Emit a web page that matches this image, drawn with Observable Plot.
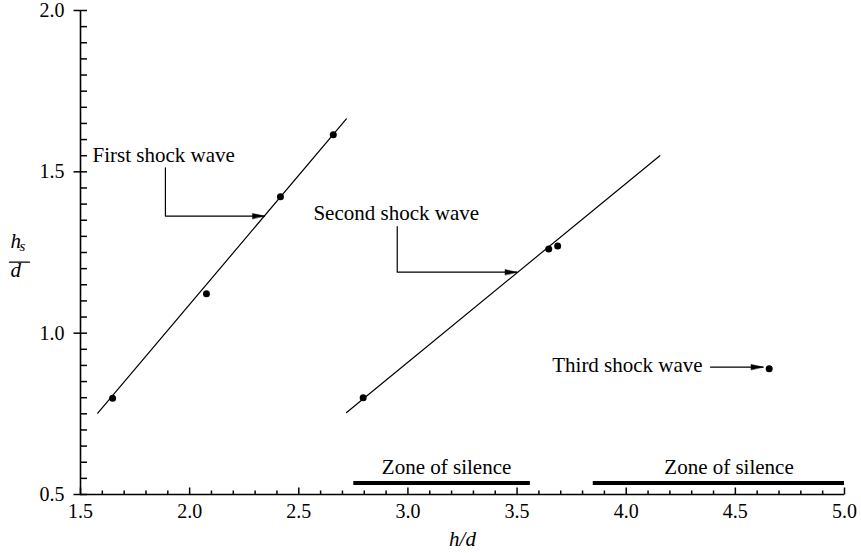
<!DOCTYPE html>
<html>
<head>
<meta charset="utf-8">
<script src="https://cdn.jsdelivr.net/npm/d3@7"></script>
<script src="https://cdn.jsdelivr.net/npm/@observablehq/plot@0.6"></script>
<style>
  html, body { margin: 0; padding: 0; background: #fff; }
</style>
</head>
<body>
<div id="chart"></div>
<script>
// ---- data ----
const firstX = [1.647, 2.077, 2.416, 2.658];
const firstY = [0.798, 1.122, 1.423, 1.615];
const secondX = [2.795, 3.645, 3.686];
const secondY = [0.800, 1.261, 1.270];
const thirdX = [4.655];
const thirdY = [0.890];

// fitted lines (end points)
const fit1X = [1.579, 2.718];
const fit1Y = [0.752, 1.664];
const fit2X = [2.719, 4.154];
const fit2Y = [0.754, 1.550];

// annotations
const annotText = ["First shock wave", "Second shock wave", "Third shock wave"];
const annotX = [1.555, 2.567, 3.661];
const annotY = [1.531, 1.351, 0.880];

const leaderId = [1, 1, 1, 2, 2, 2, 3, 3];
const leaderX = [1.889, 1.889, 2.343, 2.951, 2.951, 3.500, 4.386, 4.627];
const leaderY = [1.512, 1.363, 1.363, 1.330, 1.189, 1.189, 0.895, 0.895];

const tipX = [2.343, 3.500, 4.627];
const tipY = [1.363, 1.189, 0.895];

// zones of silence
const zoneLabel = ["Zone of silence", "Zone of silence"];
const zoneX1 = [2.752, 3.849];
const zoneX2 = [3.561, 5.0];
const zoneY = [0.536, 0.536];
const zoneLabelX = [3.177, 4.471];
const zoneLabelY = [0.564, 0.564];

// ticks
const xMajor = [1.5, 2.0, 2.5, 3.0, 3.5, 4.0, 4.5, 5.0];
const xMajorLabels = ["1.5", "2.0", "2.5", "3.0", "3.5", "4.0", "4.5", "5.0"];
const xMinor = d3.range(16, 50).map(d => d / 10).filter(d => Math.round(d * 10) % 5 !== 0);
const yMajor = [0.5, 1.0, 1.5, 2.0];
const yMajorLabels = ["0.5", "1.0", "1.5", "2.0"];
const yMinor = d3.range(11, 40).map(d => d / 20).filter(d => Math.round(d * 20) % 10 !== 0);
const yLabelY = 1.22;

// ---- build tables ----
const pts = [
  ...firstX.map((x, i) => ({x, y: firstY[i]})),
  ...secondX.map((x, i) => ({x, y: secondY[i]})),
  ...thirdX.map((x, i) => ({x, y: thirdY[i]}))
];
const fits = [
  ...fit1X.map((x, i) => ({id: 1, x, y: fit1Y[i]})),
  ...fit2X.map((x, i) => ({id: 2, x, y: fit2Y[i]}))
];
const annots = annotText.map((t, i) => ({t, x: annotX[i], y: annotY[i]}));
const leaders = leaderX.map((x, i) => ({id: leaderId[i], x, y: leaderY[i]}));
const tips = tipX.map((x, i) => ({x, y: tipY[i]}));
const zones = zoneLabel.map((t, i) => ({t, x1: zoneX1[i], x2: zoneX2[i], y: zoneY[i], lx: zoneLabelX[i], ly: zoneLabelY[i]}));

const arrowHead = {
  draw(ctx, l) {
    ctx.moveTo(0, 0);
    ctx.lineTo(-2.6, l);
    ctx.lineTo(2.6, l);
    ctx.closePath();
  }
};
// simple straight segment pointing "up" before rotation
const seg = { draw(ctx, l) { ctx.moveTo(0, 0); ctx.lineTo(0, -l); } };

const chart = Plot.plot({
  width: 861,
  height: 553,
  marginLeft: 80,
  marginRight: 17,
  marginTop: 10,
  marginBottom: 59,
  style: {fontFamily: "Liberation Serif", fontSize: "20px", background: "white", color: "black"},
  x: {domain: [1.5, 5.0], axis: null},
  y: {domain: [0.5, 2.0], axis: null},
  marks: [
    // tick labels
    Plot.text(yMajor, {y: d => d, text: (d, i) => yMajorLabels[i], frameAnchor: "left", dx: -16, textAnchor: "end", lineAnchor: "middle", fontSize: 20}),
    Plot.text(xMajor, {x: d => d, text: (d, i) => xMajorLabels[i], frameAnchor: "bottom", dy: 9, lineAnchor: "top", fontSize: 20}),
    // axis titles
    Plot.text(["h/d"], {frameAnchor: "bottom", dy: 51, lineAnchor: "bottom", fontStyle: "italic", fontSize: 21}),
    Plot.text(["h"], {y: () => yLabelY, frameAnchor: "left", dx: -70, dy: -14, textAnchor: "start", lineAnchor: "bottom", fontStyle: "italic", fontSize: 21}),
    Plot.text(["s"], {y: () => yLabelY, frameAnchor: "left", dx: -61, dy: -11.5, textAnchor: "start", lineAnchor: "bottom", fontStyle: "italic", fontSize: 15}),
    Plot.vector([0], {y: () => yLabelY, frameAnchor: "left", dx: -71, length: 20, rotate: 90, anchor: "start", shape: seg, strokeWidth: 1.2}),
    Plot.text(["d"], {y: () => yLabelY, frameAnchor: "left", dx: -70, dy: 14.5, textAnchor: "start", lineAnchor: "bottom", fontStyle: "italic", fontSize: 21}),
    // fitted lines
    Plot.line(fits, {x: "x", y: "y", z: "id", stroke: "black", strokeWidth: 1.2}),
    // data points
    Plot.dot(pts, {x: "x", y: "y", r: 3.5, fill: "black", stroke: "none"}),
    // leaders
    Plot.line(leaders, {x: "x", y: "y", z: "id", stroke: "black", strokeWidth: 1.2}),
    Plot.vector(tips, {x: "x", y: "y", length: 12, rotate: 90, anchor: "start", shape: arrowHead, fill: "black", stroke: "black", strokeWidth: 0.5}),
    Plot.text(annots, {x: "x", y: "y", text: "t", textAnchor: "start", lineAnchor: "bottom", fontSize: 21}),
    // zones of silence
    Plot.ruleY(zones, {x1: "x1", x2: "x2", y: "y", strokeWidth: 4, strokeLinecap: "butt"}),
    Plot.text(zones, {x: "lx", y: "ly", text: "t", lineAnchor: "bottom", fontSize: 21}),
    // axis lines and ticks drawn last
    Plot.ruleX([1.5], {strokeWidth: 1.6}),
    Plot.ruleY([0.5], {strokeWidth: 1.6}),
    Plot.vector(yMinor, {y: d => d, frameAnchor: "left", length: 6.5, rotate: 90, anchor: "start", shape: seg, stroke: "black", strokeWidth: 1.5, strokeLinecap: "butt"}),
    Plot.vector(yMajor, {y: d => d, frameAnchor: "left", dx: -7, length: 13.5, rotate: 90, anchor: "start", shape: seg, stroke: "black", strokeWidth: 1.5, strokeLinecap: "butt"}),
    Plot.vector(xMinor, {x: d => d, frameAnchor: "bottom", length: 4, rotate: 0, anchor: "start", shape: seg, stroke: "black", strokeWidth: 1.5, strokeLinecap: "butt"}),
    Plot.vector(xMajor, {x: d => d, frameAnchor: "bottom", length: 7, rotate: 0, anchor: "start", shape: seg, stroke: "black", strokeWidth: 1.5, strokeLinecap: "butt"})
  ]
});
document.getElementById("chart").appendChild(chart);
</script>
</body>
</html>
